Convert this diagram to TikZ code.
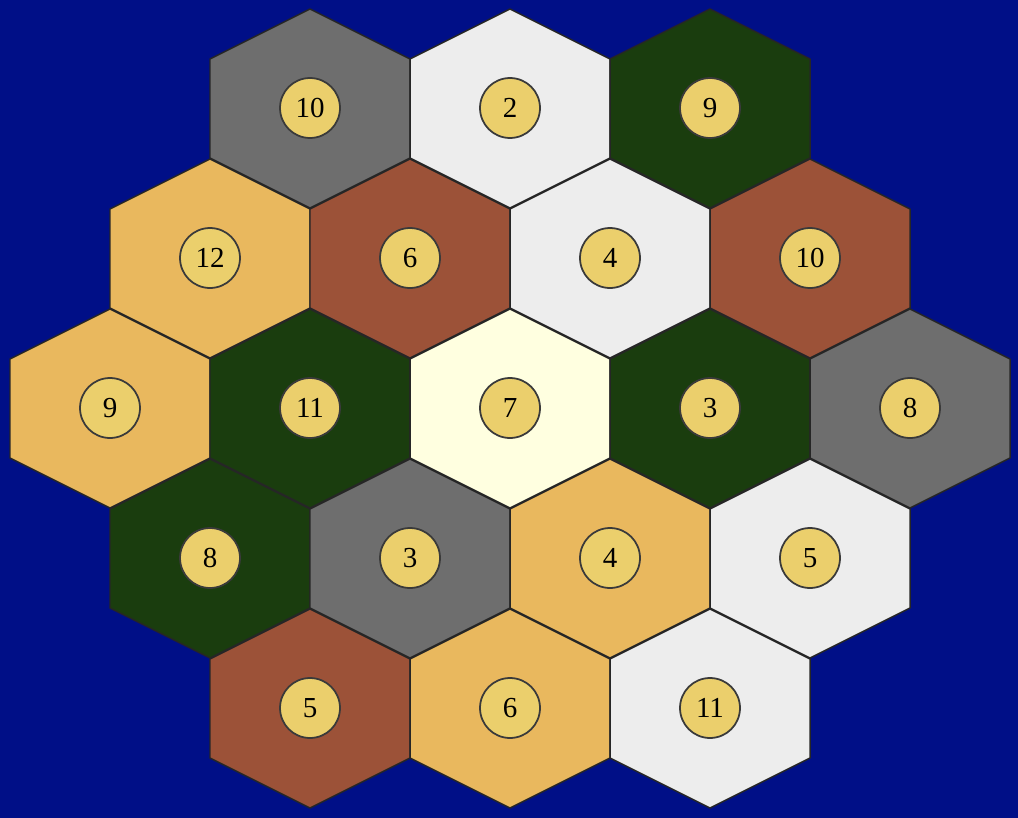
\documentclass[tikz,border=0pt]{standalone}
\usepackage{fontspec}
\setmainfont{Liberation Serif}
\usepackage{tikz}
\definecolor{sea}{HTML}{000F87}
\definecolor{ore}{HTML}{6E6E6E}
\definecolor{wool}{HTML}{EDEDED}
\definecolor{lumber}{HTML}{1A3D0E}
\definecolor{brick}{HTML}{9C5238}
\definecolor{grain}{HTML}{E9B85E}
\definecolor{desert}{HTML}{FFFFE0}
\definecolor{chip}{HTML}{EBCF6C}
\definecolor{rim}{HTML}{3A3A3A}
\tikzset{
    every picture/.style={line cap=round,line join=round},
    hextile/.style={draw=black!85,line width=0.85pt},
    numchip/.style={circle,draw=rim,fill=chip,line width=1pt,
      minimum size=12mm,inner sep=0pt,
      font=\fontsize{16.5}{16.5}\selectfont}
}

\begin{document}
\begin{tikzpicture}[x=0.02cm,y=-0.02cm]
  \fill[sea] (0,0) rectangle (1018,818);
  \useasboundingbox (0,0) rectangle (1018,818);
  % tiles: x/y/terrain/number
  \foreach \x/\y/\c/\n [count=\i] in {
      310/108/ore/10, 510/108/wool/2, 710/108/lumber/9,
      210/258/grain/12, 410/258/brick/6, 610/258/wool/4, 810/258/brick/10,
      110/408/grain/9, 310/408/lumber/11, 510/408/desert/7, 710/408/lumber/3, 910/408/ore/8,
      210/558/lumber/8, 410/558/ore/3, 610/558/grain/4, 810/558/wool/5,
      310/708/brick/5, 510/708/grain/6, 710/708/wool/11} {
    \draw[hextile,fill=\c] (\x,\y) ++(0,-99) -- ++(100,50) -- ++(0,99)
      -- ++(-100,50) -- ++(-100,-50) -- ++(0,-99) -- cycle;
    \node[numchip] (t\i) at (\x,\y) {\n};
  }
\end{tikzpicture}
\end{document}
